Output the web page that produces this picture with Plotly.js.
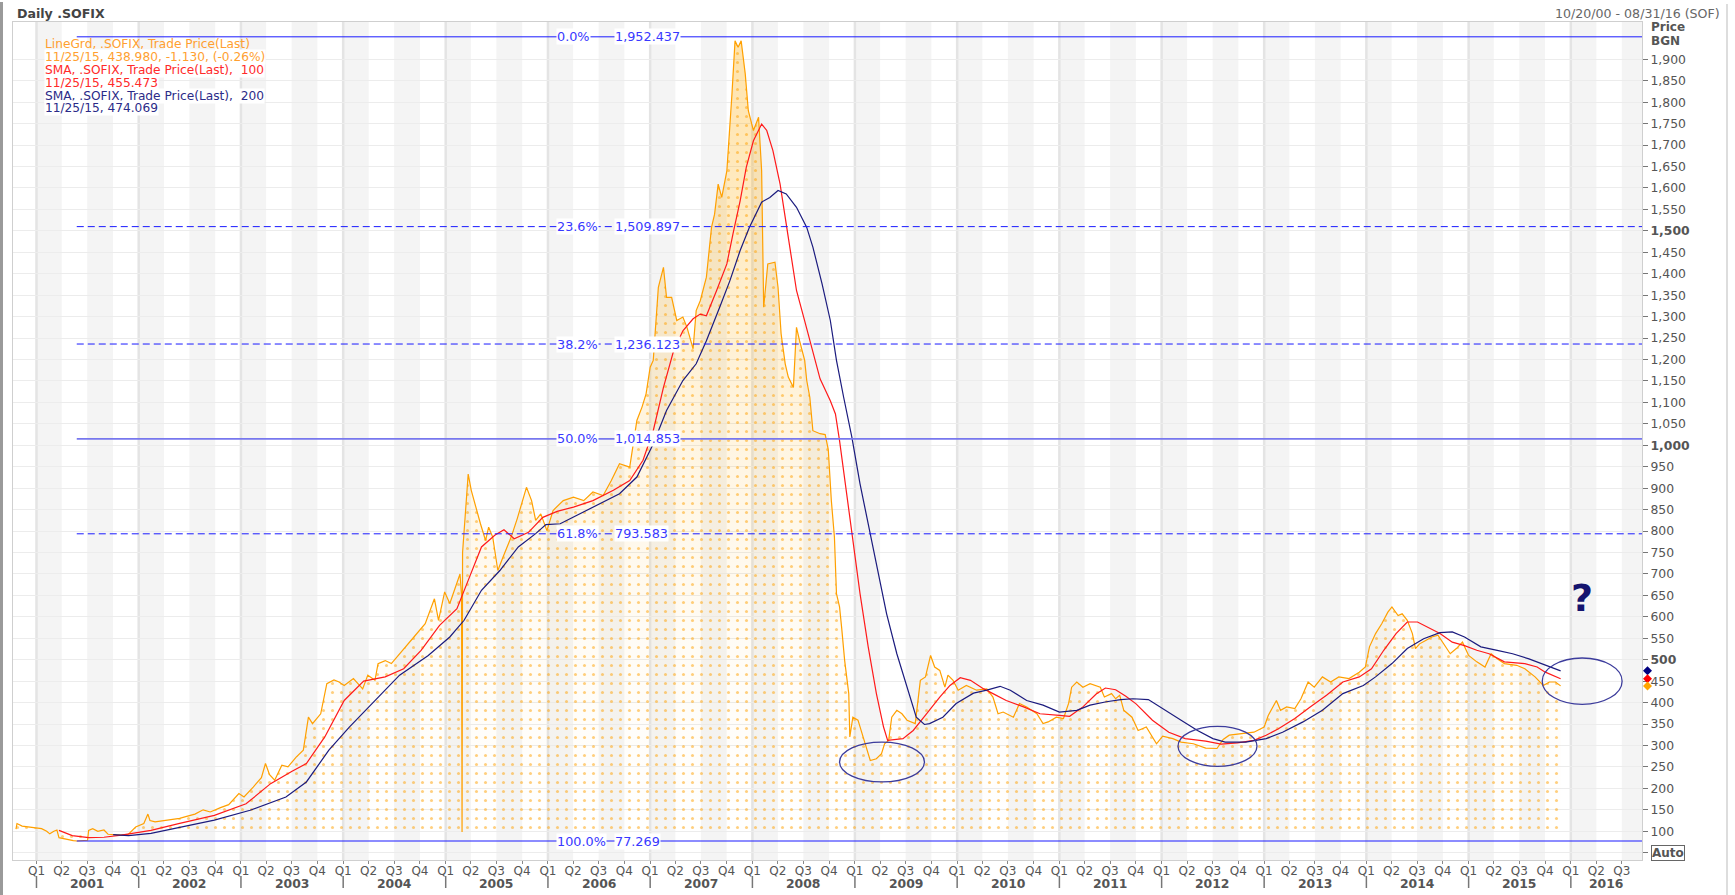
<!DOCTYPE html>
<html><head><meta charset="utf-8">
<script src="https://cdn.plot.ly/plotly-3.0.1.min.js"></script>
<style>html,body{margin:0;padding:0;background:#fff}#chart{width:1735px;height:895px}</style>
</head><body><div id="chart"></div>
<script>
// ---- data (decimal years, values in BGN) ----
const priceT = [2000.80,2000.81,2000.86,2000.96,2001.05,2001.10,2001.13,2001.17,2001.20,2001.22,2001.30,2001.36,2001.394,2001.45,2001.50,2001.51,2001.55,2001.60,2001.66,2001.70,2001.83,2001.90,2001.97,2002.05,2002.09,2002.11,2002.16,2002.28,2002.40,2002.46,2002.55,2002.63,2002.70,2002.80,2002.88,2002.98,2003.03,2003.12,2003.20,2003.24,2003.28,2003.33,2003.40,2003.46,2003.54,2003.61,2003.66,2003.70,2003.78,2003.84,2003.91,2003.96,2004.01,2004.10,2004.19,2004.24,2004.31,2004.34,2004.41,2004.47,2004.59,2004.69,2004.80,2004.89,2004.93,2004.99,2005.04,2005.11,2005.14,2005.155,2005.16,2005.165,2005.18,2005.22,2005.25,2005.30,2005.34,2005.39,2005.42,2005.46,2005.51,2005.56,2005.64,2005.70,2005.79,2005.84,2005.88,2005.93,2005.99,2006.05,2006.15,2006.25,2006.35,2006.44,2006.54,2006.62,2006.70,2006.80,2006.87,2006.92,2006.96,2007.00,2007.03,2007.08,2007.13,2007.16,2007.21,2007.26,2007.32,2007.36,2007.42,2007.45,2007.49,2007.55,2007.60,2007.63,2007.665,2007.70,2007.75,2007.80,2007.83,2007.86,2007.89,2007.93,2007.96,2008.01,2008.06,2008.09,2008.11,2008.15,2008.22,2008.25,2008.28,2008.32,2008.35,2008.40,2008.43,2008.46,2008.51,2008.53,2008.56,2008.59,2008.66,2008.71,2008.74,2008.77,2008.80,2008.82,2008.85,2008.87,2008.90,2008.94,2008.95,2008.98,2009.03,2009.08,2009.11,2009.15,2009.21,2009.26,2009.29,2009.33,2009.36,2009.41,2009.46,2009.51,2009.59,2009.64,2009.69,2009.72,2009.74,2009.78,2009.83,2009.88,2009.91,2009.96,2010.01,2010.09,2010.19,2010.29,2010.35,2010.40,2010.45,2010.55,2010.61,2010.68,2010.78,2010.84,2010.89,2010.97,2011.04,2011.09,2011.12,2011.17,2011.23,2011.30,2011.40,2011.44,2011.51,2011.55,2011.59,2011.63,2011.71,2011.77,2011.85,2011.95,2012.01,2012.11,2012.19,2012.31,2012.43,2012.54,2012.60,2012.66,2012.78,2012.90,2013.00,2013.04,2013.12,2013.16,2013.22,2013.30,2013.36,2013.43,2013.49,2013.57,2013.65,2013.73,2013.83,2013.93,2013.99,2014.03,2014.09,2014.15,2014.21,2014.25,2014.31,2014.35,2014.40,2014.45,2014.48,2014.52,2014.58,2014.64,2014.70,2014.76,2014.82,2014.88,2014.94,2015.00,2015.08,2015.16,2015.22,2015.28,2015.35,2015.47,2015.55,2015.65,2015.73,2015.79,2015.85,2015.90];
const priceV = [105,118,112,109,106,100,94,100,103,85,80,78,77.27,78,79,102,106,100,103,93,91,93,110,118,140,125,122,126,130,134,140,150,145,155,162,188,180,203,225,258,232,219,254,250,273,289,366,351,374,444,453,448,440,456,432,464,452,491,498,491,526,553,584,642,592,658,631,677,700,650,98,750,801,933,895,848,817,778,809,786,708,739,786,829,902,871,825,840,801,848,871,879,871,891,883,918,957,949,1058,1089,1120,1182,1198,1368,1415,1345,1345,1291,1299,1275,1225,1314,1337,1392,1508,1539,1609,1578,1640,1819,1943,1928,1943,1866,1780,1734,1765,1640,1322,1423,1427,1368,1260,1190,1159,1135,1275,1244,1198,1151,1112,1034,1027,1025,990,871,786,654,623,576,498,421,320,366,359,320,297,265,269,281,304,312,366,382,374,359,351,452,460,491,510,483,475,436,464,452,429,440,429,432,413,374,378,366,398,390,374,351,355,366,363,398,436,448,436,444,436,413,421,409,417,382,366,335,343,304,322,316,308,304,294,293,314,324,328,331,343,370,405,382,390,386,409,448,436,460,448,460,456,471,483,530,561,584,611,623,603,607,592,561,526,537,545,553,557,537,514,526,541,510,495,483,514,502,491,487,479,460,440,448,448,438.98];

const sma100T = [2001.22,2001.35,2001.51,2001.66,2001.83,2002.00,2002.12,2002.39,2002.74,2003.05,2003.29,2003.50,2003.64,2003.82,2004.01,2004.20,2004.41,2004.59,2004.76,2004.94,2005.11,2005.22,2005.35,2005.48,2005.57,2005.67,2005.81,2005.95,2006.09,2006.25,2006.44,2006.64,2006.80,2006.93,2007.03,2007.13,2007.23,2007.32,2007.42,2007.49,2007.55,2007.65,2007.75,2007.81,2007.88,2007.94,2008.01,2008.09,2008.14,2008.20,2008.27,2008.35,2008.43,2008.50,2008.56,2008.66,2008.76,2008.81,2008.85,2008.92,2008.97,2009.05,2009.13,2009.21,2009.28,2009.32,2009.47,2009.57,2009.70,2009.83,2009.93,2010.03,2010.13,2010.26,2010.35,2010.48,2010.65,2010.81,2011.00,2011.10,2011.23,2011.36,2011.45,2011.55,2011.65,2011.75,2011.91,2012.07,2012.23,2012.43,2012.58,2012.74,2012.90,2013.02,2013.14,2013.30,2013.45,2013.61,2013.77,2013.93,2014.05,2014.17,2014.29,2014.40,2014.50,2014.60,2014.72,2014.84,2014.96,2015.08,2015.20,2015.35,2015.55,2015.67,2015.75,2015.90];
const sma100V = [102,90,85,86,91,97,102,118,137,164,211,240,258,320,405,450,460,479,522,580,619,685,763,790,803,782,797,832,846,856,871,895,918,965,1034,1135,1221,1267,1295,1306,1302,1361,1423,1493,1570,1648,1710,1749,1734,1687,1609,1485,1361,1299,1244,1155,1104,1073,1011,887,794,654,530,421,343,312,316,335,374,413,440,458,452,432,421,405,390,374,370,368,390,420,434,430,415,397,359,331,316,310,303,306,312,324,339,363,390,417,448,460,479,522,561,588,588,576,561,541,533,522,514,495,491,483,471,455.47];

const sma200T = [2001.75,2001.90,2002.12,2002.39,2002.74,2003.09,2003.44,2003.64,2003.86,2004.06,2004.31,2004.55,2004.83,2005.04,2005.18,2005.35,2005.53,2005.71,2005.88,2005.98,2006.12,2006.31,2006.48,2006.70,2006.87,2007.03,2007.16,2007.32,2007.45,2007.55,2007.68,2007.78,2007.88,2007.97,2008.09,2008.17,2008.25,2008.33,2008.43,2008.53,2008.59,2008.68,2008.76,2008.82,2008.89,2008.97,2009.05,2009.15,2009.24,2009.31,2009.41,2009.51,2009.60,2009.68,2009.73,2009.86,2009.99,2010.16,2010.29,2010.42,2010.52,2010.68,2010.84,2011.00,2011.17,2011.30,2011.46,2011.60,2011.72,2011.87,2012.03,2012.19,2012.35,2012.50,2012.62,2012.82,2013.02,2013.18,2013.38,2013.57,2013.77,2013.97,2014.09,2014.25,2014.40,2014.56,2014.72,2014.84,2014.96,2015.12,2015.28,2015.43,2015.59,2015.75,2015.90];
const sma200V = [92,90,95,109,126,149,180,215,289,343,405,464,510,553,592,662,708,763,794,815,817,840,860,887,926,1003,1081,1151,1190,1244,1322,1384,1454,1508,1567,1578,1594,1586,1555,1508,1462,1376,1291,1198,1112,1019,910,794,693,607,514,436,366,349,351,366,398,422,429,438,429,405,394,378,382,394,402,407,409,407,382,359,335,316,308,308,316,331,355,382,421,440,460,491,526,549,563,565,553,530,522,514,502,487,474.07];

const fibPct   = ['0.0%','23.6%','38.2%','50.0%','61.8%','100.0%'];
const fibLevel = [1952.437,1509.897,1236.123,1014.853,793.583,77.269];
const fibText  = ['1,952.437','1,509.897','1,236.123','1,014.853','793.583','77.269'];
const fibStartT = 2001.394;

const lastValues = [474.069, 455.473, 438.980];
const legendLines = ['LineGrd, .SOFIX, Trade Price(Last)','11/25/15, 438.980, -1.130, (-0.26%)','SMA, .SOFIX, Trade Price(Last),&nbsp; 100','11/25/15, 455.473','SMA, .SOFIX, Trade Price(Last),&nbsp; 200','11/25/15, 474.069'];
const years = [2001,2002,2003,2004,2005,2006,2007,2008,2009,2010,2011,2012,2013,2014,2015,2016];
const quarterNames = ['Q1','Q2','Q3','Q4'];
const priceTicks = [50,100,150,200,250,300,350,400,450,500,550,600,650,700,750,800,850,900,950,1000,1050,1100,1150,1200,1250,1300,1350,1400,1450,1500,1550,1600,1650,1700,1750,1800,1850,1900];
// ellipses marked on the chart
const circleT0 = [2008.85, 2012.16, 2015.72];
const circleT1 = [2009.68, 2012.93, 2016.50];
const circleV0 = [215, 251.5, 396];
const circleV1 = [308, 344.7, 504];
const questionT = 2016.108, questionV = 644;
const rangeT = [2000.771, 2016.694];
const yRange = [33, 1987];
const fillBase = 92;

// ---- helpers ----
function toDate(t){
  const y = Math.floor(t);
  const a = Date.UTC(y,0,1), b = Date.UTC(y+1,0,1);
  return new Date(a + (t-y)*(b-a)).toISOString().slice(0,19).replace('T',' ');
}
function qDate(y,q){ return new Date(Date.UTC(y,q*3,1)).toISOString().slice(0,10); }
const P = (px)=> (px-13)/1629;      // paper x from pixel
const PY = (py)=> (860-py)/838;     // paper y from pixel
const FONT = 'DejaVu Sans, Verdana, sans-serif';
const valPerPx = (yRange[1]-yRange[0])/838;

const priceX = priceT.map(toDate);
const xr = rangeT.map(toDate);
const baseX = [priceX[0], priceX[priceX.length-1]];

// ---- traces ----
const traces = [
  {x:baseX, y:[fillBase,fillBase], mode:'lines', line:{width:0}, hoverinfo:'skip'},
  {x:priceX, y:priceV, mode:'lines', line:{width:0}, fill:'tonexty', fillcolor:'rgba(255,165,0,0.1)',
   fillgradient:{type:'vertical', start:100, stop:1950, colorscale:[[0,'rgba(255,170,0,0)'],[0.25,'rgba(255,170,0,0.04)'],[0.5,'rgba(255,170,0,0.12)'],[1,'rgba(255,170,0,0.33)']]}, hoverinfo:'skip'},
  {x:baseX, y:[fillBase,fillBase], mode:'lines', line:{width:0}, hoverinfo:'skip'},
  {x:priceX, y:priceV, mode:'lines', line:{color:'#ffa000', width:1.2}, fill:'tonexty', fillcolor:'rgba(0,0,0,0)',
   fillpattern:{shape:'.', fgcolor:'#ffa000', bgcolor:'rgba(0,0,0,0)', size:9, solidity:0.09, fillmode:'overlay'}},
  {x:sma100T.map(toDate), y:sma100V, mode:'lines', line:{color:'#ff1a1a', width:1.2}},
  {x:sma200T.map(toDate), y:sma200V, mode:'lines', line:{color:'#1b1b7e', width:1.2}}
];

// ---- shapes ----
const shapes = [];
years.forEach(y=>{
  shapes.push({type:'rect', xref:'x', yref:'paper', x0:qDate(y,0), x1:qDate(y,1), y0:0, y1:1, fillcolor:'#f4f4f4', line:{width:0}, layer:'below'});
  shapes.push({type:'rect', xref:'x', yref:'paper', x0:qDate(y,2), x1:qDate(y,3), y0:0, y1:1, fillcolor:'#f4f4f4', line:{width:0}, layer:'below'});
  shapes.push({type:'line', xref:'x', yref:'paper', x0:qDate(y,0), x1:qDate(y,0), y0:0, y1:1, line:{color:'#e4e4e4', width:2.5}, layer:'below'});
  shapes.push({type:'line', xref:'x', yref:'paper', x0:qDate(y,0), x1:qDate(y,0), y0:PY(876), y1:PY(888), line:{color:'#777', width:1.5}});
});
const fibStyle = {0:{c:'#1a1aff',w:1,d:'solid'},1:{c:'#1a1aff',w:1,d:'7px,4px'},2:{c:'#1a1aff',w:1,d:'7px,4px'},3:{c:'#7777ee',w:1.8,d:'solid'},4:{c:'#1a1aff',w:1,d:'7px,4px'},5:{c:'#1a1aff',w:1.2,d:'solid'}};
fibLevel.forEach((lv,i)=>{
  const s = fibStyle[i];
  shapes.push({type:'line', xref:'x', yref:'y', x0:toDate(fibStartT), x1:xr[1], y0:lv, y1:lv, line:{color:s.c, width:s.w, dash:s.d}, layer:'above'});
});
circleT0.forEach((t,i)=>{
  shapes.push({type:'circle', xref:'x', yref:'y', x0:toDate(t), x1:toDate(circleT1[i]), y0:circleV0[i], y1:circleV1[i], line:{color:'#3c3c9c', width:1.3}, layer:'above'});
});
const diamondColors = ['#000080','#ff0000','#ffa500'];
lastValues.forEach((v,i)=>{
  const cx = P(1647.5), hw = 4.5/1629, hh = 4.5*valPerPx;
  shapes.push({type:'path', xref:'paper', yref:'y', path:`M ${cx-hw},${v} L ${cx},${v+hh} L ${cx+hw},${v} L ${cx},${v-hh} Z`,
    fillcolor:diamondColors[i], line:{width:0}, layer:'above'});
});
shapes.push({type:'line', xref:'paper', yref:'paper', x0:P(1.5), x1:P(1.5), y0:PY(2), y1:PY(895), line:{color:'#9a9a9a', width:3}});
shapes.push({type:'line', xref:'paper', yref:'paper', x0:P(1727), x1:P(1727), y0:PY(4), y1:PY(895), line:{color:'#dddddd', width:2}});

// ---- annotations ----
const ann = [];
const fibFont = {family:FONT, size:12.8, color:'#3838ff'};
fibLevel.forEach((lv,i)=>{
  ann.push({xref:'paper', yref:'y', x:P(556), y:lv, xanchor:'left', yanchor:'middle', text:fibPct[i], showarrow:false, font:fibFont, bgcolor:'#ffffff', borderpad:0});
  ann.push({xref:'paper', yref:'y', x:P(614), y:lv, xanchor:'left', yanchor:'middle', text:fibText[i], showarrow:false, font:fibFont, bgcolor:'#ffffff', borderpad:0});
});
const legColors = ['#ff9f30','#ff9f30','#ff2a2a','#ff2a2a','#2b2b88','#2b2b88'];
const legY = [43.8,56.7,70,82.7,95.7,108.3];
legendLines.forEach((t,i)=>{
  ann.push({xref:'paper', yref:'paper', x:P(44), y:PY(legY[i]), xanchor:'left', yanchor:'middle', text:t, showarrow:false,
    font:{family:FONT, size:12.2, color:legColors[i]}, bgcolor: i===0 ? 'rgba(255,255,255,0)' : '#ffffff', borderpad:0});
});
years.forEach(y=>{
  const mid = y===2016 ? (2016+rangeT[1])/2 : y+0.5;
  ann.push({xref:'x', yref:'paper', x:toDate(mid), y:PY(884), xanchor:'center', yanchor:'middle', text:'<b>'+y+'</b>', showarrow:false,
    font:{family:FONT, size:12.4, color:'#555'}});
});
ann.push({xref:'paper', yref:'paper', x:P(15), y:PY(13), xanchor:'left', yanchor:'middle', text:'<b>Daily .SOFIX</b>', showarrow:false, font:{family:FONT, size:12.6, color:'#444'}});
ann.push({xref:'paper', yref:'paper', x:P(1722), y:PY(13), xanchor:'right', yanchor:'middle', text:'10/20/00 - 08/31/16 (SOF)', showarrow:false, font:{family:FONT, size:12.6, color:'#666'}});
ann.push({xref:'paper', yref:'paper', x:P(1649), y:PY(27), xanchor:'left', yanchor:'middle', text:'<b>Price</b>', showarrow:false, font:{family:FONT, size:12, color:'#555'}});
ann.push({xref:'paper', yref:'paper', x:P(1649), y:PY(41), xanchor:'left', yanchor:'middle', text:'<b>BGN</b>', showarrow:false, font:{family:FONT, size:12, color:'#555'}});
ann.push({xref:'paper', yref:'paper', x:P(1651), y:PY(853), xanchor:'left', yanchor:'middle', text:'<b>Auto</b>', showarrow:false, bordercolor:'#666', borderwidth:1, borderpad:0, bgcolor:'#fff', font:{family:FONT, size:12, color:'#555'}});
ann.push({xref:'x', yref:'y', x:toDate(questionT), y:questionV, xanchor:'center', yanchor:'middle', text:'<b>?</b>', showarrow:false, font:{family:FONT, size:38, color:'#14146e'}});

// ---- axes ----
const qVals = [], qText = [];
years.forEach(y=>{ quarterNames.forEach((q,i)=>{ const d=qDate(y,i); if (d <= xr[1]) { qVals.push(d); qText.push(q); } }); });
const yText = priceTicks.map(v => v===50 ? '' : ((v%500===0) ? '<b>'+v.toLocaleString('en-US')+'</b>' : v.toLocaleString('en-US')));

const layout = {
  width:1735, height:895, margin:{l:13, r:93, t:22, b:35, pad:0},
  paper_bgcolor:'#ffffff', plot_bgcolor:'#ffffff', showlegend:false,
  font:{family:FONT, size:12, color:'#555'},
  xaxis:{type:'date', range:xr, tickmode:'array', tickvals:qVals, ticktext:qText, ticks:'outside', ticklen:3, tickcolor:'#888', ticklabelstandoff:-3,
    showgrid:false, zeroline:false, showline:true, mirror:true, linecolor:'#cfcfcf', tickfont:{size:12, color:'#555'}, fixedrange:true},
  yaxis:{side:'right', range:yRange, tickmode:'array', tickvals:priceTicks, ticktext:yText, ticks:'outside', ticklen:5, tickcolor:'#777',
    showgrid:true, gridcolor:'#ececec', gridwidth:1, zeroline:false, showline:true, mirror:true, linecolor:'#cfcfcf', tickfont:{size:12.4, color:'#555'}, fixedrange:true},
  shapes:shapes, annotations:ann, hovermode:false
};
Plotly.newPlot('chart', traces, layout, {displayModeBar:false, staticPlot:true});
</script></body></html>
